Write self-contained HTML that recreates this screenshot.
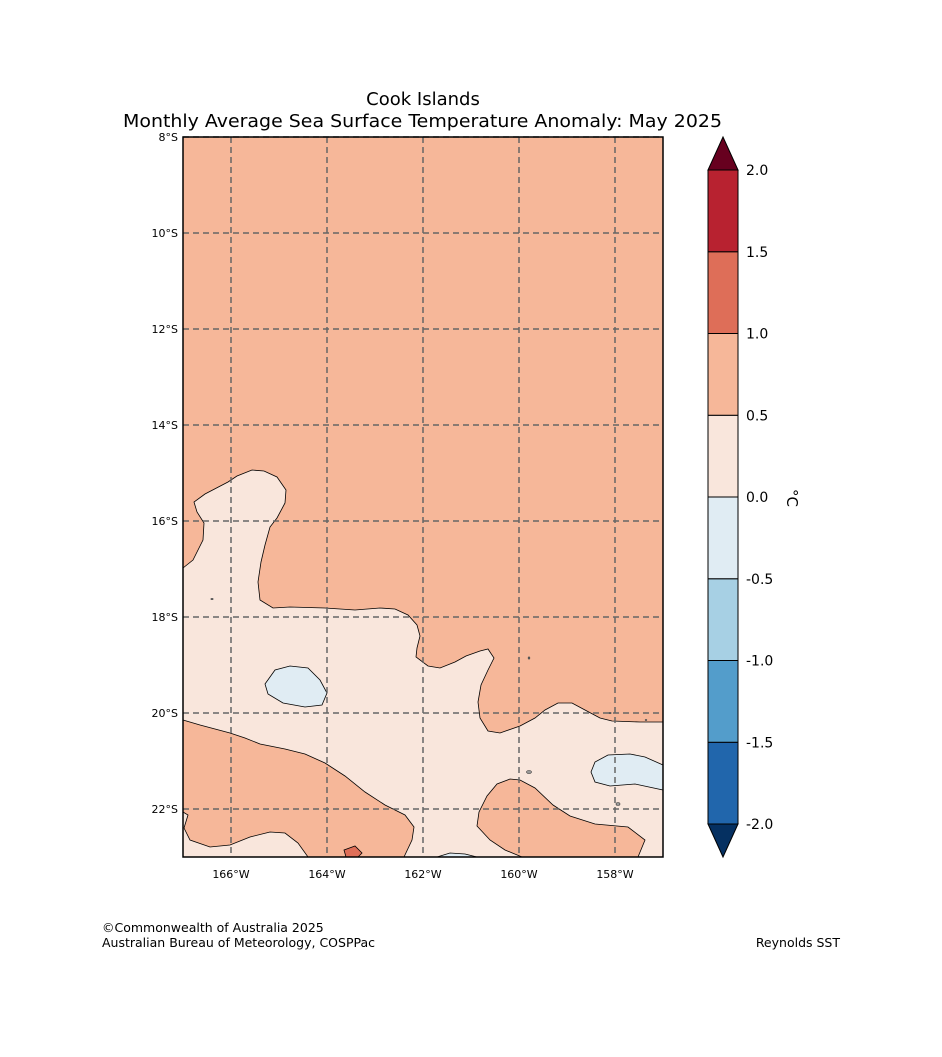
<!DOCTYPE html>
<html><head><meta charset="utf-8"><style>
body{margin:0;background:#fff;}
svg text{font-family:"DejaVu Sans","Liberation Sans",sans-serif;}
</style></head><body>
<svg id="s" width="942" height="1052" xmlns="http://www.w3.org/2000/svg">
<text x="423" y="105" font-size="18" text-anchor="middle">Cook Islands</text>
<text x="123" y="127" font-size="18" textLength="599" lengthAdjust="spacingAndGlyphs">Monthly Average Sea Surface Temperature Anomaly: May 2025</text>
<g>
<rect x="183" y="137" width="480" height="720" fill="#f6b799"/>
<polygon fill="#f9e6dc" stroke="#000" stroke-width="0.8" points="183,568 193,560 203,540 204,523 197,512 194,502 205,494 228,482 237,476 252,470 264,471 277,477 286,490 285,503 277,518 270,527 265,545 261,562 258,582 260,600 273,608 290,607 325,608 355,610 380,608 395,609 408,615 417,625 420,636 417,648 416,657 428,666 440,668 455,662 466,656 480,651 488,649 494,658 488,670 481,685 478,702 480,718 488,731 500,733 520,726 535,718 545,710 558,703 572,703 585,710 600,718 612,721 640,722 663,722 663,857 183,857"/>
<polygon fill="#f6b799" stroke="#000" stroke-width="0.8" points="183,720 200,725 230,733 245,738 260,744 285,749 305,754 325,763 345,776 365,792 385,805 405,815 414,827 412,840 404,857 308,857 298,843 285,833 270,832 250,837 230,845 210,847 190,840 184,828 188,815 183,812"/>
<polygon fill="#f6b799" stroke="#000" stroke-width="0.8" points="522,857 505,850 490,840 477,826 479,812 487,796 497,784 510,779 520,780 535,788 553,805 570,816 595,824 628,827 645,840 638,857"/>
<polygon fill="#e0ecf3" stroke="#000" stroke-width="0.8" points="265,684 275,670 290,666 308,668 320,680 327,693 322,705 305,707 283,703 268,694"/>
<polygon fill="#e0ecf3" stroke="#000" stroke-width="0.8" points="663,765 645,757 630,754 608,755 595,762 591,772 595,782 610,786 635,784 663,790"/>
<polygon fill="#e0ecf3" stroke="#000" stroke-width="0.8" points="437,857 450,853 465,854 477,857"/>
<polygon fill="#de6e58" stroke="#000" stroke-width="0.8" points="344,850 355,846 362,853 358,857 346,857"/>
<ellipse cx="212" cy="599" rx="1.5" ry="1" fill="#555"/>
<ellipse cx="529" cy="658" rx="1.2" ry="1.5" fill="#555"/>
<ellipse cx="529" cy="772" rx="2.5" ry="1.5" fill="#999" stroke="#333" stroke-width="0.6"/>
<ellipse cx="610" cy="713" rx="1.5" ry="1" fill="#555"/>
<ellipse cx="646" cy="720" rx="1.2" ry="1" fill="#555"/>
<ellipse cx="618" cy="804" rx="2" ry="1.5" fill="#999" stroke="#333" stroke-width="0.6"/>
<g id="grid"></g>
<rect x="183" y="137" width="480" height="720" fill="none" stroke="#000" stroke-width="1.5"/>
</g>
<g id="cbar"></g>
<text x="0" y="0" font-size="15" transform="translate(787,489) rotate(90)">°C</text>
<text x="102" y="932" font-size="12.5">©Commonwealth of Australia 2025</text>
<text x="102" y="947" font-size="12.5">Australian Bureau of Meteorology, COSPPac</text>
<text x="840" y="947" font-size="12.5" text-anchor="end">Reynolds SST</text>
</svg>
<script>
const lonTicks=[166,164,162,160,158];
const latTicks=[8,10,12,14,16,18,20,22];
const cbLevels=[-2.0,-1.5,-1.0,-0.5,0.0,0.5,1.0,1.5,2.0];
const cbColors=["#2166ac","#539dcb","#a7d0e4","#e0ecf3","#f9e6dc","#f6b799","#de6e58","#b82230"];
const cbUnder="#053061", cbOver="#67001f";
const NS="http://www.w3.org/2000/svg";
function mk(t,a,p){const e=document.createElementNS(NS,t);for(const k in a)e.setAttribute(k,a[k]);p.appendChild(e);return e;}
const xLon=l=>183+(167-l)*48;
const yLat=l=>137+(l-8)*48;
const gridG=document.getElementById('grid');
lonTicks.forEach(l=>{
 const x=xLon(l);
 const ln=mk('line',{x1:x,y1:137,x2:x,y2:857,stroke:'#666','stroke-width':1.5,'stroke-dasharray':'6,4'},gridG);
 
 
 const t=mk('text',{x:x,y:878,'font-size':11,'text-anchor':'middle'},gridG);t.textContent=l+'°W';
 
 
});
latTicks.forEach(l=>{
 const y=yLat(l);
 const ln=mk('line',{x1:183,y1:y,x2:663,y2:y,stroke:'#666','stroke-width':1.5,'stroke-dasharray':'6,4'},gridG);
 
 
 const t=mk('text',{x:178,y:y+4,'font-size':11,'text-anchor':'end'},gridG);t.textContent=l+'°S';
 
 
});
const cbG=document.getElementById('cbar');
const cy=v=>824-(v-cbLevels[0])*(654/(cbLevels[cbLevels.length-1]-cbLevels[0]));
cbColors.forEach((c,i)=>{
 const y1=cy(cbLevels[i+1]),y2=cy(cbLevels[i]);
 const r=mk('rect',{x:708,y:y1,width:30,height:y2-y1,fill:c,stroke:'#000','stroke-width':1},cbG);
 
 
});
const cbTopArrow=mk('polygon',{points:`708,${cy(2)} 738,${cy(2)} 723,137`,fill:cbOver,stroke:'#000','stroke-width':1},cbG);


const cbBotArrow=mk('polygon',{points:`708,${cy(-2)} 738,${cy(-2)} 723,857`,fill:cbUnder,stroke:'#000','stroke-width':1},cbG);


cbLevels.forEach(v=>{
 const t=mk('text',{x:746,y:cy(v)+5,'font-size':14},cbG);t.textContent=v.toFixed(1);
 
 
});
</script>
</body></html>
